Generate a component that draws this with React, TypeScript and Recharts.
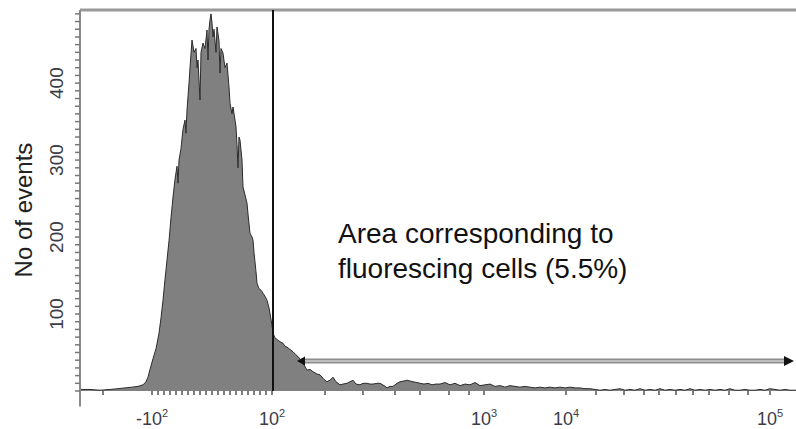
import React from 'react'
import {
  AreaChart,
  Area,
  XAxis,
  YAxis,
  ReferenceLine,
  ReferenceDot,
} from 'recharts'

// fluorescence channel (display units) and event counts
const CHANNELS = [
  0, 10, 20, 30, 38, 45, 52, 58, 63, 66, 68, 70, 73, 76, 79, 81, 83, 85, 87, 89,
  91, 93, 95, 97, 98, 99, 101, 103, 105, 106, 107, 109, 110, 112, 114, 116, 117, 118, 120, 121,
  123, 125, 127, 128, 129, 130, 131, 132, 133, 134, 136, 137, 139, 140, 141, 143, 145, 147, 149, 150,
  152, 153, 155, 156, 157, 158, 159, 160, 162, 163, 165, 167, 168, 170, 172, 173, 174, 176, 177, 179,
  181, 183, 185, 187, 189, 190, 192, 193, 195, 198, 200, 203, 205, 207, 210, 213, 216, 220, 223, 227,
  230, 233, 237, 240, 244, 247, 250, 253, 256, 260, 263, 267, 270, 273, 276, 280, 283, 287, 290, 293,
  297, 300, 304, 307, 310, 313, 317, 320, 324, 327, 330, 333, 337, 340, 344, 348, 352, 356, 360, 365,
  370, 375, 380, 385, 390, 395, 400, 405, 410, 415, 420, 425, 430, 435, 440, 445, 450, 455, 460, 465,
  470, 475, 480, 485, 490, 495, 500, 505, 510, 515, 520, 525, 530, 535, 540, 545, 550, 555, 560, 565,
  570, 575, 580, 585, 590, 595, 600, 605, 610, 615, 620, 625, 630, 635, 640, 645, 650, 655, 660, 665,
  670, 675, 680, 685, 690, 695, 700, 705, 710, 716,
]

const EVENTS = [
  2, 2, 1, 2, 3, 4, 5, 6, 8, 12, 18, 28, 42, 55, 75, 95, 118, 145, 170, 195,
  225, 252, 275, 292, 270, 300, 315, 340, 352, 335, 365, 400, 420, 456, 440, 445, 420, 430, 378, 440,
  452, 445, 469, 430, 470, 482, 490, 478, 460, 470, 440, 473, 455, 413, 445, 439, 420, 426, 395, 374,
  360, 369, 352, 343, 320, 290, 330, 326, 300, 265, 255, 244, 230, 205, 200, 196, 180, 155, 140, 133,
  131, 127, 123, 118, 108, 101, 85, 75, 69, 66, 64, 62, 58, 57, 54, 51, 47, 42, 36, 27,
  28, 25, 22, 21, 15, 12, 14, 18, 12, 8, 9, 10, 12, 14, 9, 8, 10, 10, 9, 9,
  10, 10, 7, 4, 6, 6, 10, 12, 13, 14, 13, 12, 11, 10, 9, 10, 8, 9, 9, 11,
  8, 10, 7, 9, 8, 11, 7, 8, 9, 6, 7, 5, 7, 6, 5, 6, 5, 4, 5, 4,
  5, 4, 5, 4, 5, 4, 4, 3, 3, 2, 1, 2, 1, 2, 3, 1, 2, 1, 3, 1,
  2, 1, 3, 1, 2, 1, 2, 1, 3, 1, 2, 1, 2, 1, 2, 1, 3, 1, 1, 2,
  1, 1, 2, 1, 3, 2, 1, 2, 1, 1,
]

// x axis: labelled decades and the unlabelled minor ticks
const X_MAJOR = [72, 192, 404, 486, 690]
const X_MAJOR_LABELS = [
  { base: '-10', exp: '2' },
  { base: '10', exp: '2' },
  { base: '10', exp: '3' },
  { base: '10', exp: '4' },
  { base: '10', exp: '5' },
]
const X_MINOR = [
  23, 78, 84, 90, 96, 102, 108, 114, 120, 126, 132, 138, 144, 150, 156, 162, 168, 174, 180, 186,
  245, 283, 315, 340, 369, 389, 516, 544, 564, 579, 596, 613, 629, 649, 668,
]

const Y_LABELS = [100, 200, 300, 400]
const Y_MAX = 495
const Y_MINOR = Array.from({ length: 50 }, (_, i) => i * 10)

const GATE = 193
const ARROW_Y = 39
const ARROW_FROM = 217
const ARROW_TO = 714

const data = CHANNELS.map((ch, i) => ({ ch, events: EVENTS[i] }))
const xTicks = [...X_MINOR, ...X_MAJOR].sort((a, b) => a - b)

const FONT = '"Liberation Sans", Arial, sans-serif'

function XTick({ x, y, payload }: any) {
  const idx = X_MAJOR.indexOf(payload.value)
  if (idx < 0) return <g />
  const lbl = X_MAJOR_LABELS[idx]
  return (
    <text x={x} y={y + 28} textAnchor="middle" fontFamily={FONT} fontSize={18} fill="#3c3c48">
      <tspan>{lbl.base}</tspan>
      <tspan dy={-8} fontSize={11}>{lbl.exp}</tspan>
    </text>
  )
}

function YTick({ y, payload }: any) {
  if (!Y_LABELS.includes(payload.value)) return <g />
  return (
    <text
      transform={`translate(63, ${y}) rotate(-90)`}
      textAnchor="middle"
      fontFamily={FONT}
      fontSize={19}
      fill="#3c3c48"
    >
      {payload.value}
    </text>
  )
}

function YTitle() {
  return (
    <text
      transform="translate(32, 210) rotate(-90)"
      textAnchor="middle"
      fontFamily={FONT}
      fontSize={24}
      fill="#222"
    >
      No of events
    </text>
  )
}

const leftHead = (p: any) => (
  <polygon points={`${p.cx},${p.cy} ${p.cx + 8},${p.cy - 4.5} ${p.cx + 8},${p.cy + 4.5}`} fill="#111" />
)
const rightHead = (p: any) => (
  <polygon points={`${p.cx},${p.cy} ${p.cx - 10},${p.cy - 5} ${p.cx - 10},${p.cy + 5}`} fill="#111" />
)
const annotation = (p: any) => (
  <text x={p.cx} y={p.cy} fontFamily={FONT} fontSize={28} fill="#111">
    <tspan x={p.cx}>Area corresponding to</tspan>
    <tspan x={p.cx} dy={35}>fluorescing cells (5.5%)</tspan>
  </text>
)

export default function App() {
  return (
    <div style={{ width: 796, height: 429, background: '#fff' }}>
      <style>{'body{margin:0}'}</style>
      <AreaChart width={796} height={429} data={data} margin={{ top: 10, right: 0, bottom: 0, left: 0 }}>
        <XAxis
          dataKey="ch"
          type="number"
          domain={[0, 716]}
          ticks={xTicks}
          interval={0}
          height={38}
          axisLine={false}
          tickLine={{ stroke: '#555', strokeWidth: 1.5 }}
          tickSize={4}
          tick={<XTick />}
        />
        <YAxis
          type="number"
          domain={[0, Y_MAX]}
          ticks={Y_MINOR}
          interval={0}
          width={80}
          axisLine={false}
          tickLine={{ stroke: '#777', strokeWidth: 1.5 }}
          tickSize={5}
          tick={<YTick />}
          label={<YTitle />}
        />
        <Area
          type="linear"
          dataKey="events"
          stroke="#2b2b2b"
          strokeWidth={1}
          fill="#808080"
          fillOpacity={1}
          baseValue={0}
          dot={false}
          activeDot={false}
          isAnimationActive={false}
        />
        <ReferenceLine y={Y_MAX} stroke="#999" strokeWidth={3} />
        <ReferenceLine
          segment={[{ x: 0, y: Y_MAX }, { x: 0, y: -20 }]}
          stroke="#8a8a8a"
          strokeWidth={2}
          ifOverflow="visible"
        />
        <ReferenceLine x={GATE} stroke="#111" strokeWidth={2} />
        <ReferenceLine
          segment={[{ x: ARROW_FROM + 5, y: ARROW_Y }, { x: ARROW_TO - 8, y: ARROW_Y }]}
          stroke="#8c8c8c"
          strokeWidth={5}
        />
        <ReferenceLine
          segment={[{ x: ARROW_FROM + 5, y: ARROW_Y }, { x: ARROW_TO - 8, y: ARROW_Y }]}
          stroke="#cfcfcf"
          strokeWidth={1.5}
        />
        <ReferenceDot x={ARROW_FROM} y={ARROW_Y} shape={leftHead} ifOverflow="visible" />
        <ReferenceDot x={ARROW_TO} y={ARROW_Y} shape={rightHead} ifOverflow="visible" />
        <ReferenceDot x={258} y={192.3} shape={annotation} ifOverflow="visible" />
      </AreaChart>
    </div>
  )
}
